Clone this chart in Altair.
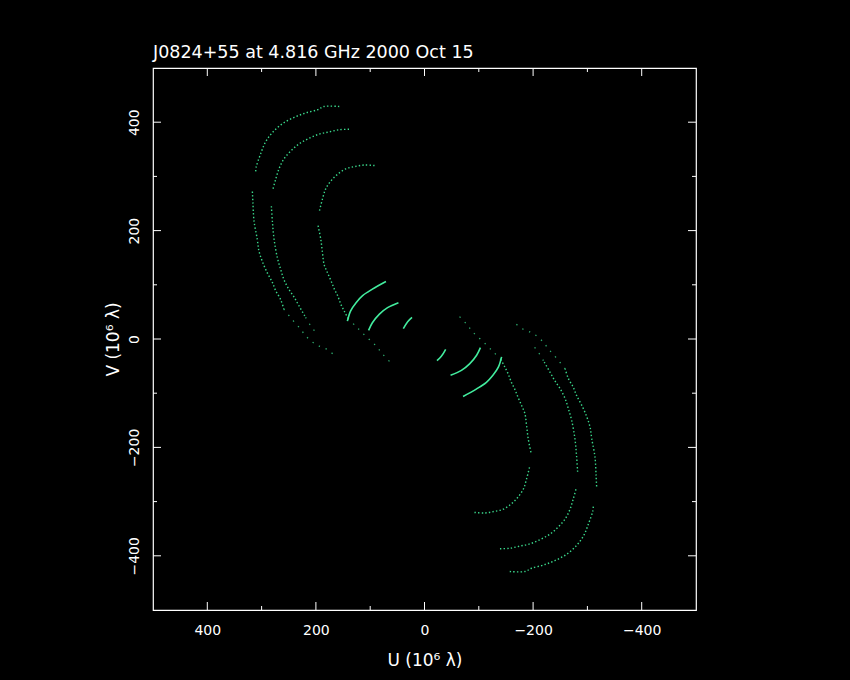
import altair as alt
import pandas as pd

TITLE = "J0824+55 at 4.816 GHz 2000 Oct 15"

# --- uv tracks (upper-left half, units of 10^6 lambda); conjugates are -u,-v ---
A1_u = [157, 185, 197, 219, 240, 262, 280, 293, 302, 310, 311]
A1_v = [429, 429, 423, 417, 409, 397, 381, 363, 341, 317, 307]
A2_u = [317, 316, 314, 308, 305, 299, 290, 280, 274, 265, 259]
A2_v = [272, 252, 218, 184, 163, 144, 123, 104, 89, 73, 55]
A3_u = [259, 242, 228, 219, 206, 194, 178, 162]
A3_v = [55, 34, 18, 6, -6, -13, -20, -34]

B1_u = [139, 157, 176, 194, 213, 231, 246, 259, 268, 274, 279]
B1_v = [387, 386, 382, 378, 370, 360, 347, 332, 314, 295, 277]
B2_u = [282, 280, 277, 271, 265, 259, 250, 240, 231, 219]
B2_v = [245, 215, 184, 150, 129, 110, 92, 77, 61, 40]
B3_u = [219, 210, 200]
B3_v = [40, 25, 12]

C1_u = [92, 111, 129, 145, 160, 172, 182, 188, 194]
C1_v = [320, 321, 318, 314, 304, 292, 277, 258, 234]
C2_u = [196, 191, 188, 185, 179, 172, 166, 160, 154, 148, 141]
C2_v = [209, 184, 160, 138, 123, 107, 92, 80, 64, 52, 38]
C3_u = [141, 126, 108, 89, 77, 59]
C3_v = [38, 23, 5, -13, -28, -47]

M1_u = [142, 136, 126, 114, 96, 71]
M1_v = [33, 52, 67, 80, 92, 106]
M2_u = [103, 96, 83, 68, 48]
M2_v = [16, 30, 46, 58, 67]
M3_u = [39, 31, 23]
M3_v = [19, 32, 40]

segments = [
    ("A1", A1_u, A1_v, "dense"), ("A2", A2_u, A2_v, "dense"), ("A3", A3_u, A3_v, "sparse"),
    ("B1", B1_u, B1_v, "dense"), ("B2", B2_u, B2_v, "dense"), ("B3", B3_u, B3_v, "sparse"),
    ("C1", C1_u, C1_v, "dense"), ("C2", C2_u, C2_v, "dense"), ("C3", C3_u, C3_v, "sparse"),
    ("M1", M1_u, M1_v, "solid"), ("M2", M2_u, M2_v, "solid"), ("M3", M3_u, M3_v, "solid"),
]

rows = []
for name, us, vs, style in segments:
    for i, (u, v) in enumerate(zip(us, vs)):
        rows.append({"seg": name, "ord": i, "u": u, "v": v, "style": style})
        rows.append({"seg": name + "c", "ord": i, "u": -u, "v": -v, "style": style})
df = pd.DataFrame(rows)

# tick positions
major_ticks = [-400, -200, 0, 200, 400]
minor_ticks = [-300, -100, 100, 300]
major_df = pd.DataFrame({"u": major_ticks, "v": major_ticks})
minor_df = pd.DataFrame({"u": minor_ticks, "v": minor_ticks})

W, H = 543, 542
FONT = "DejaVu Sans"
GREEN = "#3ad98c"
BRIGHT = "#42ec9e"
MAJ, MIN = 8, 4

xscale = alt.Scale(domain=[-500, 500], reverse=True, nice=False, zero=False)
yscale = alt.Scale(domain=[-500, 500], nice=False, zero=False)

xaxis = alt.Axis(values=major_ticks, ticks=False, tickSize=0, domain=False, grid=False,
                 labelColor="white", labelFont=FONT, labelFontSize=14, labelPadding=13,
                 labelBaseline="top", labelFlush=False,
                 title="U (10⁶ λ)", titleColor="white", titleFont=FONT, titleFontSize=17,
                 titleFontWeight="normal", titlePadding=15)
yaxis = alt.Axis(values=major_ticks, ticks=False, tickSize=0, domain=False, grid=False,
                 labelColor="white", labelFont=FONT, labelFontSize=14, labelPadding=15,
                 labelAngle=270, labelAlign="center", labelBaseline="alphabetic", labelFlush=False,
                 title="V (10⁶ λ)", titleColor="white", titleFont=FONT, titleFontSize=17,
                 titleFontWeight="normal", titlePadding=5)

X = alt.X("u:Q", scale=xscale, axis=xaxis, title="U (10⁶ λ)")
Y = alt.Y("v:Q", scale=yscale, axis=yaxis, title="V (10⁶ λ)")

base = alt.Chart(df).encode(x=X, y=Y, detail="seg:N", order="ord:Q")

dense = base.transform_filter(alt.datum.style == "dense").mark_line(
    interpolate="catmull-rom", color=GREEN, strokeWidth=1.4, strokeDash=[1.4, 2.2], strokeCap="butt"
)
sparse = base.transform_filter(alt.datum.style == "sparse").mark_line(
    interpolate="catmull-rom", color=GREEN, strokeWidth=1.3, strokeDash=[1.3, 6], strokeCap="butt", opacity=0.8
)
solid = base.transform_filter(alt.datum.style == "solid").mark_line(
    interpolate="catmull-rom", color=BRIGHT, strokeWidth=1.6
)


def xticks(data, length, side):
    y0, y1 = (H, H - length) if side == "bottom" else (0, length)
    return alt.Chart(data).mark_rule(color="white", strokeWidth=1).encode(
        x=X, y=alt.value(y0), y2=alt.value(y1),
    )


def yticks(data, length, side):
    x0, x1 = (0, length) if side == "left" else (W, W - length)
    return alt.Chart(data).mark_rule(color="white", strokeWidth=1).encode(
        y=Y, x=alt.value(x0), x2=alt.value(x1),
    )


tick_layers = []
for data, length in ((major_df, MAJ), (minor_df, MIN)):
    tick_layers += [xticks(data, length, "bottom"), xticks(data, length, "top"),
                    yticks(data, length, "left"), yticks(data, length, "right")]

chart = alt.layer(dense, sparse, solid, *tick_layers).properties(
    width=W, height=H,
    title=alt.TitleParams(TITLE, anchor="start", frame="group", color="white", font=FONT,
                          fontSize=17.5, fontWeight="normal", offset=6),
    background="black",
    autosize=alt.AutoSizeParams(type="none"),
    padding={"left": 145, "top": 60, "right": 146, "bottom": 62},
).configure_view(stroke="white", strokeWidth=1.2)

TEMPLATE = """<!DOCTYPE html>
<html>
<head>
  <meta charset="UTF-8">
  <style>
    html, body { background: #000000; }
    #{{ output_div }}.vega-embed { width: 100%; display: flex; }
  </style>
  <script type="text/javascript" src="{{ base_url }}/vega@{{ vega_version }}"></script>
  <script type="text/javascript" src="{{ base_url }}/vega-lite@{{ vegalite_version }}"></script>
  <script type="text/javascript" src="{{ base_url }}/vega-embed@{{ vegaembed_version }}"></script>
</head>
<body>
  <div id="{{ output_div }}"></div>
  <script>
    (function(vegaEmbed) {
      var spec = {{ spec }};
      var embedOpt = {{ embed_options }};
      vegaEmbed("#{{ output_div }}", spec, embedOpt);
    })(vegaEmbed);
  </script>
</body>
</html>
"""

try:
    import jinja2
    tpl = jinja2.Template(TEMPLATE)
    chart.save("out.html", embed_options={"renderer": "svg", "actions": False}, template=tpl)
except Exception:
    chart.save("out.html", embed_options={"renderer": "svg", "actions": False})
